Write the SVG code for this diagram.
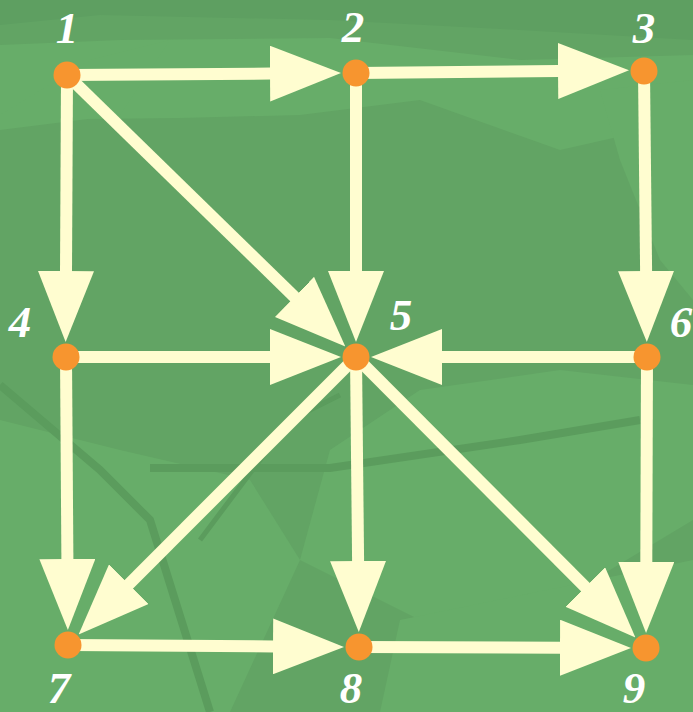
<svg xmlns="http://www.w3.org/2000/svg" width="693" height="712" viewBox="0 0 693 712">
<style>
.bgl{fill:#67ad69}
.bgd{fill:#5e9f61}
.tex{stroke:#5b9c5d;fill:none}
.edge{stroke:#fffdd0;stroke-width:12;fill:none;marker-end:url(#ah)}
.node{fill:#f7952f}
.lbl{font-family:"Liberation Serif","Times New Roman",serif;font-weight:bold;font-style:italic;font-size:45px;fill:#ffffff;text-anchor:middle}
</style>
<defs>
<marker id="ah" markerUnits="userSpaceOnUse" viewBox="0 -28 71 56" refX="1" refY="0" markerWidth="71" markerHeight="56" orient="auto">
<path d="M0,-28 L71,0 L0,28 Z" fill="#fffdd0"/>
</marker>
</defs>
<g id="background">
<rect width="693" height="712" fill="#62a464"/>
<polygon class="bgl" points="0,45 120,40 330,38 520,60 693,55 693,120 560,150 420,100 300,115 180,118 0,120"/>
<polygon class="bgl" points="0,130 0,115 90,60 170,40 120,115"/>
<polygon class="bgd" points="0,0 693,0 693,40 520,30 330,20 100,15 0,25"/>
<polygon class="bgl" points="330,450 420,390 560,370 693,385 693,520 560,600 420,620 300,560"/>
<polygon class="bgl" points="0,420 120,450 250,480 300,560 230,712 0,712"/>
<polygon class="bgl" points="400,620 693,560 693,712 380,712"/>
<polygon class="bgl" points="600,90 693,80 693,300 660,260 620,160"/>
<path class="tex" d="M0,385 L100,470 L150,520 L210,712" stroke-width="8"/>
<path class="tex" d="M150,468 L330,468 L520,440 L640,420" stroke-width="8"/>
<path class="tex" d="M200,540 L290,420 L340,395" stroke-width="5"/>
</g>
<g id="connectors">
<line class="edge" x1="67" y1="75" x2="271" y2="73.6"/>
<line class="edge" x1="356" y1="73" x2="559" y2="71"/>
<line class="edge" x1="67" y1="75" x2="66" y2="272"/>
<line class="edge" x1="67" y1="75" x2="295.2" y2="297.6"/>
<line class="edge" x1="356" y1="73" x2="356" y2="272"/>
<line class="edge" x1="644" y1="71" x2="646.1" y2="272"/>
<line class="edge" x1="66" y1="357" x2="271" y2="357"/>
<line class="edge" x1="647" y1="357" x2="441" y2="357"/>
<line class="edge" x1="66" y1="357" x2="67.4" y2="560"/>
<line class="edge" x1="356" y1="357" x2="128.1" y2="584.9"/>
<line class="edge" x1="356" y1="357" x2="358.1" y2="562"/>
<line class="edge" x1="356" y1="357" x2="586" y2="587.8"/>
<line class="edge" x1="647" y1="357" x2="646.3" y2="563"/>
<line class="edge" x1="68" y1="645" x2="274" y2="646.4"/>
<line class="edge" x1="359" y1="647" x2="561" y2="647.7"/>
</g>
<g id="n1"><circle class="node" cx="67" cy="75" r="13.5"/><text class="lbl" x="67" y="43">1</text></g>
<g id="n2"><circle class="node" cx="356" cy="73" r="13.5"/><text class="lbl" x="353" y="42">2</text></g>
<g id="n3"><circle class="node" cx="644" cy="71" r="13.5"/><text class="lbl" x="644" y="43">3</text></g>
<g id="n4"><circle class="node" cx="66" cy="357" r="13.5"/><text class="lbl" x="20" y="337">4</text></g>
<g id="n5"><circle class="node" cx="356" cy="357" r="13.5"/><text class="lbl" x="401" y="330">5</text></g>
<g id="n6"><circle class="node" cx="647" cy="357" r="13.5"/><text class="lbl" x="681" y="337">6</text></g>
<g id="n7"><circle class="node" cx="68" cy="645" r="13.5"/><text class="lbl" x="59" y="703">7</text></g>
<g id="n8"><circle class="node" cx="359" cy="647" r="13.5"/><text class="lbl" x="351" y="703">8</text></g>
<g id="n9"><circle class="node" cx="646" cy="648" r="13.5"/><text class="lbl" x="634" y="703">9</text></g>
</svg>
